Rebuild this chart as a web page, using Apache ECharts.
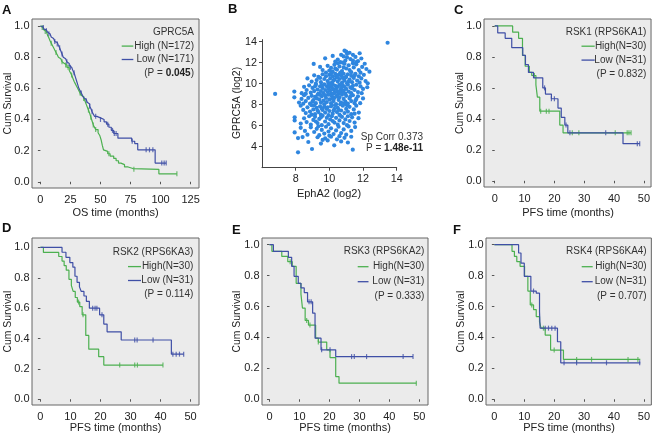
<!DOCTYPE html>
<html><head><meta charset="utf-8">
<script src="https://cdn.jsdelivr.net/npm/echarts@6/dist/echarts.min.js"></script>
<style>html,body{margin:0;padding:0;background:#fff}#c{width:653px;height:438px}</style>
</head><body><div id="c"></div>
<script>
// ---------- tick labels ----------
const survTicks = [0, 0.2, 0.4, 0.6, 0.8, 1.0];
const osTicks = [0, 25, 50, 75, 100, 125];
const pfsTicks = [0, 10, 20, 30, 40, 50];
const ephTicks = [8, 10, 12, 14];
const gprTicks = [4, 6, 8, 10, 12, 14];

// ---------- Panel A: GPRC5A, OS ----------
const aHigh = [[0,1],[1,0.99],[2,0.985],[3,0.975],[4,0.965],[5,0.955],[6,0.94],[7,0.925],[8,0.905],[9,0.89],[10,0.875],[11,0.86],[12,0.845],[13,0.83],[14,0.815],[15,0.80],[16,0.79],[17,0.78],[18,0.77],[19,0.76],[20,0.75],[22,0.735],[24,0.715],[25,0.70],[26,0.685],[27,0.665],[28,0.645],[29,0.63],[30,0.615],[31,0.60],[32,0.585],[33,0.57],[34,0.555],[35,0.545],[36,0.535],[37,0.52],[38,0.50],[39,0.48],[40,0.46],[41,0.44],[42,0.415],[43,0.39],[44,0.365],[45,0.35],[46,0.335],[48,0.315],[49.5,0.295],[50.5,0.27],[51.5,0.235],[52.5,0.205],[54,0.195],[56,0.18],[58,0.165],[61,0.15],[63,0.135],[65,0.12],[67,0.11],[70,0.095],[73,0.085],[77,0.08],[98.6,0.051],[113.6,0.051]];
const aHighCens = [1.5,4,9,13,18,21,23,26,33,36,40,42,44,46,57,77.8,113.6];
const aLow = [[0,1],[1,0.995],[2,0.99],[3,0.98],[4,0.975],[5,0.97],[6,0.96],[7,0.95],[8,0.94],[9,0.93],[10,0.92],[11,0.91],[12,0.90],[13,0.895],[14,0.885],[15,0.875],[16,0.86],[17,0.84],[18,0.82],[19,0.80],[20,0.79],[21,0.78],[22,0.77],[23,0.76],[24,0.745],[25,0.735],[26,0.725],[27,0.715],[28,0.70],[29,0.675],[30,0.65],[31,0.625],[32,0.60],[33,0.585],[34,0.57],[35,0.555],[36,0.54],[37,0.53],[38,0.52],[39,0.51],[40,0.50],[41,0.485],[42,0.47],[43,0.45],[44,0.435],[45,0.42],[47,0.41],[50,0.40],[53,0.385],[55,0.37],[57,0.35],[59,0.33],[61,0.31],[64.5,0.28],[76,0.26],[78.5,0.245],[81,0.205],[95.5,0.12],[104.7,0.12]];
const aLowCens = [2.5,5,7,12,14,16,18,22,25,28,34,38,41,43,46,50,56,60,61.5,63,76.4,88,90.8,93.6,101,103,104.7];

// ---------- Panel B: EphA2 vs GPRC5A (log2) ----------
const bPoints = [
[13.46,13.9],[10.9,13.15],[11.0,13.05],
[9.75,12.42],[10.7,12.75],[10.85,12.6],[11.05,12.85],[11.4,12.75],[11.55,12.55],[11.8,12.9],[11.25,12.35],[10.5,12.3],[10.95,12.2],[11.7,12.15],[11.05,12.5],[10.35,12.1],[10.65,12.05],[11.4,12.2],[11.9,12.4],[10.2,12.65],[11.2,12.95],[11.6,12.05],[10.8,12.0],
[9.07,11.88],[9.6,11.3],[9.9,11.7],[10.1,11.5],[10.3,11.8],[10.45,11.35],[10.6,11.65],[10.75,11.2],[10.9,11.9],[11.0,11.45],[11.15,11.75],[11.3,11.1],[11.45,11.55],[11.6,11.85],[11.75,11.3],[11.95,11.6],[12.1,11.9],[12.38,11.15],[9.8,11.05],[10.2,11.15],[10.5,11.95],[10.85,11.55],[11.2,11.3],[11.4,11.95],[9.45,11.6],[10.0,11.25],[10.65,11.05],[11.85,11.05],[12.2,11.4],[10.35,11.45],
[8.7,10.5],[8.95,10.2],[9.1,10.8],[9.25,10.35],[9.35,10.65],[9.5,10.15],[9.6,10.9],[9.7,10.45],[9.8,10.7],[9.9,10.25],[10.0,10.85],[10.05,10.5],[10.15,10.1],[10.2,10.7],[10.3,10.4],[10.35,10.95],[10.45,10.6],[10.5,10.2],[10.55,10.85],[10.6,10.45],[10.7,10.75],[10.75,10.1],[10.8,10.55],[10.85,10.95],[10.9,10.3],[11.0,10.65],[11.05,10.05],[11.1,10.9],[11.2,10.4],[11.3,10.75],[11.35,10.15],[11.45,10.55],[11.55,10.95],[11.65,10.3],[11.75,10.7],[11.9,10.5],[12.05,10.85],[12.28,10.04],[12.15,10.25],[9.45,10.55],[9.95,10.05],[10.25,10.3],[10.65,10.95],[10.95,10.6],[11.15,10.2],[11.5,10.8],[9.2,10.0],[10.4,10.7],[11.8,10.1],[10.1,10.95],
[7.92,9.25],[8.36,9.1],[8.5,9.7],[8.65,9.4],[8.8,9.85],[8.9,9.15],[9.0,9.6],[9.1,9.3],[9.2,9.9],[9.3,9.45],[9.35,9.05],[9.45,9.75],[9.5,9.3],[9.6,9.6],[9.65,9.1],[9.7,9.95],[9.75,9.4],[9.85,9.75],[9.9,9.2],[9.95,9.55],[10.0,9.85],[10.05,9.35],[10.1,9.05],[10.15,9.65],[10.2,9.95],[10.25,9.45],[10.3,9.15],[10.35,9.8],[10.4,9.5],[10.45,9.25],[10.5,9.7],[10.55,9.05],[10.6,9.9],[10.65,9.4],[10.7,9.6],[10.75,9.15],[10.8,9.85],[10.85,9.35],[10.9,9.7],[10.95,9.05],[11.0,9.5],[11.1,9.9],[11.15,9.25],[11.25,9.65],[11.3,9.1],[11.4,9.8],[11.5,9.4],[11.6,9.9],[11.7,9.2],[11.92,9.1],[12.25,9.66],[12.0,9.5],[11.85,9.75],[9.55,9.85],[10.05,9.95],[10.6,9.25],[11.35,9.55],[8.6,9.05],[9.15,9.75],[10.25,9.05],
[6.78,9.03],[7.92,8.7],[8.2,8.2],[8.35,8.55],[8.5,8.9],[8.6,8.35],[8.75,8.65],[8.85,8.1],[8.95,8.85],[9.05,8.45],[9.15,8.75],[9.2,8.15],[9.3,8.95],[9.4,8.5],[9.5,8.2],[9.55,8.8],[9.65,8.4],[9.7,8.05],[9.8,8.65],[9.85,8.25],[9.95,8.95],[10.0,8.5],[10.1,8.15],[10.15,8.8],[10.25,8.35],[10.3,8.65],[10.4,8.05],[10.45,8.9],[10.55,8.45],[10.6,8.7],[10.7,8.2],[10.75,8.95],[10.85,8.55],[10.95,8.3],[11.0,8.85],[11.1,8.1],[11.2,8.6],[11.3,8.35],[11.4,8.9],[11.5,8.15],[11.6,8.55],[11.83,8.15],[11.7,8.8],[12.0,8.6],[9.25,8.6],[9.75,8.9],[10.2,8.55],[10.65,8.05],[11.25,8.8],[9.0,8.3],[8.45,8.1],[10.5,8.75],[9.45,8.95],[10.9,8.1],[11.55,8.4],
[8.3,7.9],[8.45,7.5],[8.6,7.2],[8.7,7.75],[8.85,7.35],[8.95,7.95],[9.05,7.55],[9.15,7.1],[9.25,7.7],[9.35,7.3],[9.45,7.85],[9.5,7.05],[9.6,7.5],[9.7,7.8],[9.75,7.25],[9.85,7.6],[9.95,7.0],[10.0,7.4],[10.1,7.85],[10.2,7.15],[10.3,7.6],[10.35,7.95],[10.45,7.3],[10.5,7.7],[10.6,7.05],[10.7,7.45],[10.8,7.9],[10.9,7.2],[11.0,7.6],[11.1,7.35],[11.2,7.8],[11.3,7.1],[11.45,7.55],[11.6,7.9],[11.75,7.25],[9.1,7.95],[9.9,7.75],[10.55,7.5],[9.55,7.65],[10.25,7.45],[8.95,7.05],[11.05,7.95],[11.5,7.15],[10.15,7.95],[9.3,7.45],
[7.94,6.8],[7.94,6.5],[8.3,6.2],[8.5,6.7],[8.65,6.35],[8.8,6.9],[8.9,6.1],[9.05,6.55],[9.15,6.85],[9.3,6.25],[9.4,6.65],[9.55,6.05],[9.6,6.95],[9.75,6.4],[9.85,6.75],[9.95,6.15],[10.05,6.6],[10.15,6.9],[10.3,6.3],[10.4,6.75],[10.5,6.1],[10.6,6.5],[10.75,6.85],[10.85,6.25],[10.95,6.6],[11.05,6.05],[11.2,6.45],[11.35,6.8],[11.5,6.3],[11.73,6.72],[9.2,6.4],[10.2,6.45],[10.65,6.95],[9.5,6.8],[11.1,6.9],
[7.94,5.36],[8.3,5.8],[8.55,5.5],[8.7,5.15],[8.9,5.85],[9.1,5.4],[9.25,5.7],[9.4,5.1],[9.55,5.6],[9.7,5.25],[9.8,5.9],[9.95,5.45],[10.1,5.75],[10.25,5.2],[10.4,5.55],[10.55,5.9],[10.7,5.3],[10.85,5.65],[11.0,5.15],[11.14,5.93],[11.3,5.5],[11.53,5.87],[10.0,5.05],[9.35,5.95],[10.6,5.0],
[8.14,4.82],[8.41,4.92],[8.75,4.45],[9.3,4.9],[9.5,4.3],[9.75,4.8],[9.9,4.6],[10.1,4.95],[10.29,4.13],[10.45,4.7],[10.7,4.5],[10.9,4.85],[11.1,4.4],[11.3,4.95],[9.6,4.65],
[8.14,3.46],[8.97,3.78],[11.39,3.72]
];

// ---------- Panel C: RSK1 (RPS6KA1), PFS ----------
const cHigh = [[0,1],[6,0.96],[8,0.92],[9.3,0.81],[10.2,0.74],[11.6,0.70],[12.4,0.68],[13.8,0.62],[14.3,0.54],[15.1,0.45],[21.8,0.36],[22.9,0.31],[45.7,0.31]];
const cHighCens = [13.3,15.4,17.3,18.2,26,28.2,40.4,44.4,45,45.7];
const cLow = [[0,1],[1,0.955],[3.5,0.92],[5.7,0.86],[9.4,0.81],[10.3,0.75],[11.3,0.70],[13,0.665],[16.1,0.60],[17,0.56],[19,0.53],[21.2,0.47],[22.3,0.41],[23.5,0.36],[24.5,0.31],[43,0.24],[48.6,0.24]];
const cLowCens = [16.7,19,20,23.9,25.2,37.2,47.8,48.6];

// ---------- Panel D: RSK2 (RPS6KA3), PFS ----------
const dHigh = [[0,1],[1,0.967],[6.1,0.94],[7.2,0.91],[7.9,0.88],[8.6,0.85],[9.5,0.79],[10.3,0.75],[10.9,0.71],[11.6,0.67],[12.3,0.64],[13.1,0.61],[13.9,0.556],[15.1,0.42],[16.1,0.33],[19.4,0.28],[21.1,0.225],[40.8,0.225]];
const dHighCens = [12.7,14.2,26.4,31.4,32.3,40.8];
const dLow = [[0,1],[7.2,0.968],[8.5,0.935],[9.8,0.90],[10.8,0.87],[11.5,0.81],[12.2,0.77],[13,0.74],[13.6,0.71],[14.5,0.68],[15.3,0.645],[16.3,0.60],[19.7,0.556],[21.1,0.495],[22.2,0.444],[26.9,0.39],[43.6,0.297],[47.7,0.297]];
const dLowCens = [17.4,18.2,18.8,20.5,31.4,32.2,37.5,44.1,45.2,46.3,47.7];

// ---------- Panel E: RSK3 (RPS6KA2), PFS ----------
const eHigh = [[0,1],[0.8,0.957],[4.1,0.924],[6.1,0.89],[7.6,0.86],[8.9,0.75],[10.5,0.68],[11,0.59],[11.9,0.51],[13,0.48],[15.4,0.395],[16.3,0.37],[19.1,0.32],[20.2,0.27],[22.1,0.147],[23.2,0.104],[49,0.104]];
const eHighCens = [6.9,12.4,13.5,16.3,49];
const eLow = [[0,1],[1.3,0.957],[6.3,0.918],[7.4,0.86],[8.2,0.795],[9.6,0.75],[10.5,0.72],[11.6,0.69],[12.7,0.63],[14.4,0.557],[15.2,0.395],[17.2,0.32],[22.1,0.276],[47.9,0.276]];
const eLowCens = [13.2,13.9,17.4,20.2,27.4,28.3,32.4,44.6,47.9];

// ---------- Panel F: RSK4 (RPS6KA4), PFS ----------
const fHigh = [[0,1],[5.9,0.957],[6.7,0.924],[7.5,0.89],[8.6,0.86],[10.1,0.795],[11.2,0.70],[12,0.61],[13.1,0.58],[14,0.535],[15.1,0.50],[15.6,0.46],[17,0.415],[18.8,0.318],[23.1,0.258],[48.8,0.258]];
const fHighCens = [12.5,16.4,20,27.5,32.5,44.7,48];
const fLow = [[0,1],[8.1,0.946],[8.9,0.88],[10,0.795],[12.2,0.70],[14,0.686],[15.1,0.567],[15.3,0.46],[21.1,0.372],[22.2,0.236],[48.8,0.236]];
const fLowCens = [13.1,17,18.1,19.2,20.3,23.3,27.5,37.5,48.6];

// ---------- styling ----------
const FONT = "'Liberation Sans', Arial, Helvetica, sans-serif";
const GREEN = '#4cb050';
const BLUE = '#3f4fa6';
const DOT = '#2f86df';
const TXT = '#222';
const TICKFS = 11;

function survAt(steps, t) {
  let s = steps[0][1];
  for (const p of steps) { if (p[0] <= t) s = p[1]; }
  return s;
}

const grids = [], xAxes = [], yAxes = [], series = [];

function kmPanel(box, xr, yr, xTicks, high, highC, low, lowC) {
  const gi = grids.length;
  grids.push({left: box[0], top: box[1], width: box[2]-box[0], height: box[3]-box[1],
    show: true, backgroundColor: '#ebebeb', borderColor: '#666', borderWidth: 1});
  xAxes.push({gridIndex: gi, type: 'value', min: xr[0], max: xr[1],
    axisLine: {show: false}, splitLine: {show: false},
    axisTick: {show: true, length: 2.5, customValues: xTicks, lineStyle: {color: '#555'}},
    axisLabel: {customValues: xTicks, fontSize: TICKFS, color: TXT, margin: 6, fontFamily: FONT}});
  yAxes.push({gridIndex: gi, type: 'value', min: yr[0], max: yr[1],
    axisLine: {show: false}, splitLine: {show: false},
    axisTick: {show: true, length: 2.5, customValues: survTicks, lineStyle: {color: '#555'}},
    axisLabel: {customValues: survTicks, fontSize: TICKFS, color: TXT, margin: 2.5, fontFamily: FONT,
      formatter: v => v.toFixed(1)}});
  const add = (steps, cens, color) => {
    series.push({type: 'line', xAxisIndex: gi, yAxisIndex: gi, data: steps, step: 'end',
      showSymbol: false, symbol: 'none', lineStyle: {color, width: 1.2}, animation: false, silent: true});
    series.push({type: 'scatter', xAxisIndex: gi, yAxisIndex: gi,
      data: cens.map(t => [t, survAt(steps, t)]), symbol: 'rect', symbolSize: [1.2, 5],
      itemStyle: {color}, animation: false, silent: true});
  };
  add(high, highC, GREEN);
  add(low, lowC, BLUE);
}

kmPanel([32, 19, 199, 188], [-7, 132], [-0.04, 1.045], osTicks, aHigh, aHighCens, aLow, aLowCens);

// Panel B grid
{
  const gi = grids.length;
  grids.push({left: 262, top: 39.6, width: 134.7, height: 128.1, show: false});
  xAxes.push({gridIndex: gi, type: 'value', min: 6, max: 14,
    axisLine: {show: true, lineStyle: {color: '#444'}}, splitLine: {show: false},
    axisTick: {show: true, length: 3, customValues: ephTicks, lineStyle: {color: '#444'}},
    axisLabel: {customValues: ephTicks, fontSize: 10.8, color: TXT, margin: 6, fontFamily: FONT}});
  yAxes.push({gridIndex: gi, type: 'value', min: 2, max: 14.2,
    axisLine: {show: true, lineStyle: {color: '#444'}}, splitLine: {show: false},
    axisTick: {show: true, length: 3, customValues: gprTicks, lineStyle: {color: '#444'}},
    axisLabel: {customValues: gprTicks, fontSize: 10.8, color: TXT, margin: 5, fontFamily: FONT}});
  series.push({type: 'scatter', xAxisIndex: gi, yAxisIndex: gi, data: bPoints,
    symbolSize: 4.2, itemStyle: {color: DOT, opacity: 1}, animation: false, silent: true});
}

kmPanel([484, 19, 652, 187], [-3.6, 52.4], [-0.04, 1.045], pfsTicks, cHigh, cHighCens, cLow, cLowCens);
kmPanel([32, 238, 199, 405], [-2.8, 52.8], [-0.038, 1.062], pfsTicks, dHigh, dHighCens, dLow, dLowCens);
kmPanel([262, 238, 428, 405], [-2.5, 52.9], [-0.037, 1.043], pfsTicks, eHigh, eHighCens, eLow, eLowCens);
kmPanel([486, 238, 652, 405], [-2.8, 52.5], [-0.037, 1.043], pfsTicks, fHigh, fHighCens, fLow, fLowCens);

// ---------- annotations ----------
const LF = "10px 'Liberation Sans', Arial, sans-serif";
const LFB = "bold 10px 'Liberation Sans', Arial, sans-serif";
const NF = "11px 'Liberation Sans', Arial, sans-serif";
const YNF = "10.4px 'Liberation Sans', Arial, sans-serif";
function legendBlock(right, y0, dy, lineX1, lineX2, title, hi, lo, pText, pBold) {
  const els = [];
  const t = (text, y) => ({type: 'text', x: right, y, style: {text, align: 'right', verticalAlign: 'middle', font: LF, fill: '#333'}});
  els.push(t(title, y0));
  els.push(t(hi, y0 + dy));
  els.push(t(lo, y0 + 2*dy));
  if (pBold) {
    els.push({type: 'text', x: right, y: y0 + 3*dy, style: {text: '{n|(P = }{b|' + pText + '}{n|)}', align: 'right', verticalAlign: 'middle',
      rich: {n: {font: LF, fill: '#333'}, b: {font: LFB, fill: '#222'}}}});
  } else {
    els.push(t('(P = ' + pText + ')', y0 + 3*dy));
  }
  els.push({type: 'line', shape: {x1: lineX1, y1: y0 + dy, x2: lineX2, y2: y0 + dy}, style: {stroke: GREEN, lineWidth: 1.3}});
  els.push({type: 'line', shape: {x1: lineX1, y1: y0 + 2*dy, x2: lineX2, y2: y0 + 2*dy}, style: {stroke: BLUE, lineWidth: 1.3}});
  return els;
}
const letter = (s, x, y) => ({type: 'text', x, y, style: {text: s, font: "bold 13px 'Liberation Sans', Arial, sans-serif", fill: '#111', verticalAlign: 'top'}});
const yName = (s, x, y) => ({type: 'text', x, y, rotation: Math.PI / 2, style: {text: s, font: YNF, fill: TXT, align: 'center', verticalAlign: 'middle'}});
const xName = (s, x, y) => ({type: 'text', x, y, style: {text: s, font: NF, fill: TXT, align: 'center', verticalAlign: 'middle'}});

const graphics = [].concat(
  legendBlock(194, 32.7, 13.4, 121.7, 133.3, 'GPRC5A', 'High (N=172)', 'Low (N=171)', '0.045', true),
  legendBlock(646.3, 32.3, 13.9, 581.5, 594.7, 'RSK1 (RPS6KA1)', 'High(N=30)', 'Low (N=31)', '0.832', false),
  legendBlock(193.3, 252.7, 13.9, 128, 141, 'RSK2 (RPS6KA3)', 'High(N=30)', 'Low (N=31)', '0.114', false),
  legendBlock(424.3, 251.7, 15, 357.7, 368.5, 'RSK3 (RPS6KA2)', 'High(N=30)', 'Low (N=31)', '0.333', false),
  legendBlock(646.7, 251.7, 15, 581.7, 592.7, 'RSK4 (RPS6KA4)', 'High(N=30)', 'Low (N=31)', '0.707', false),
  [
    {type: 'text', x: 423, y: 137.7, style: {text: 'Sp Corr 0.373', align: 'right', verticalAlign: 'middle', font: LF, fill: '#333'}},
    {type: 'text', x: 423, y: 148, style: {text: '{n|P = }{b|1.48e-11}', align: 'right', verticalAlign: 'middle',
      rich: {n: {font: LF, fill: '#333'}, b: {font: LFB, fill: '#222'}}}},
    letter('A', 2, 4), letter('B', 228, 3), letter('C', 454, 4),
    letter('D', 2, 222), letter('E', 232, 224), letter('F', 453, 224),
    yName('Cum Survival', 8, 103.5), xName('OS time (months)', 115.5, 213),
    yName('GPRC5A (log2)', 237.5, 103), xName('EphA2 (log2)', 329, 194),
    yName('Cum Survival', 460.3, 103), xName('PFS time (months)', 568, 213),
    yName('Cum Survival', 8, 321.7), xName('PFS time (months)', 115.5, 428),
    yName('Cum Survival', 237, 321.7), xName('PFS time (months)', 345, 428),
    yName('Cum Survival', 461.3, 321.7), xName('PFS time (months)', 569, 428)
  ]
);

const chart = echarts.init(document.getElementById('c'), null, {renderer: 'canvas'});
chart.setOption({
  animation: false,
  backgroundColor: '#fff',
  textStyle: {fontFamily: FONT},
  grid: grids, xAxis: xAxes, yAxis: yAxes, series,
  graphic: graphics
});
</script></body></html>
